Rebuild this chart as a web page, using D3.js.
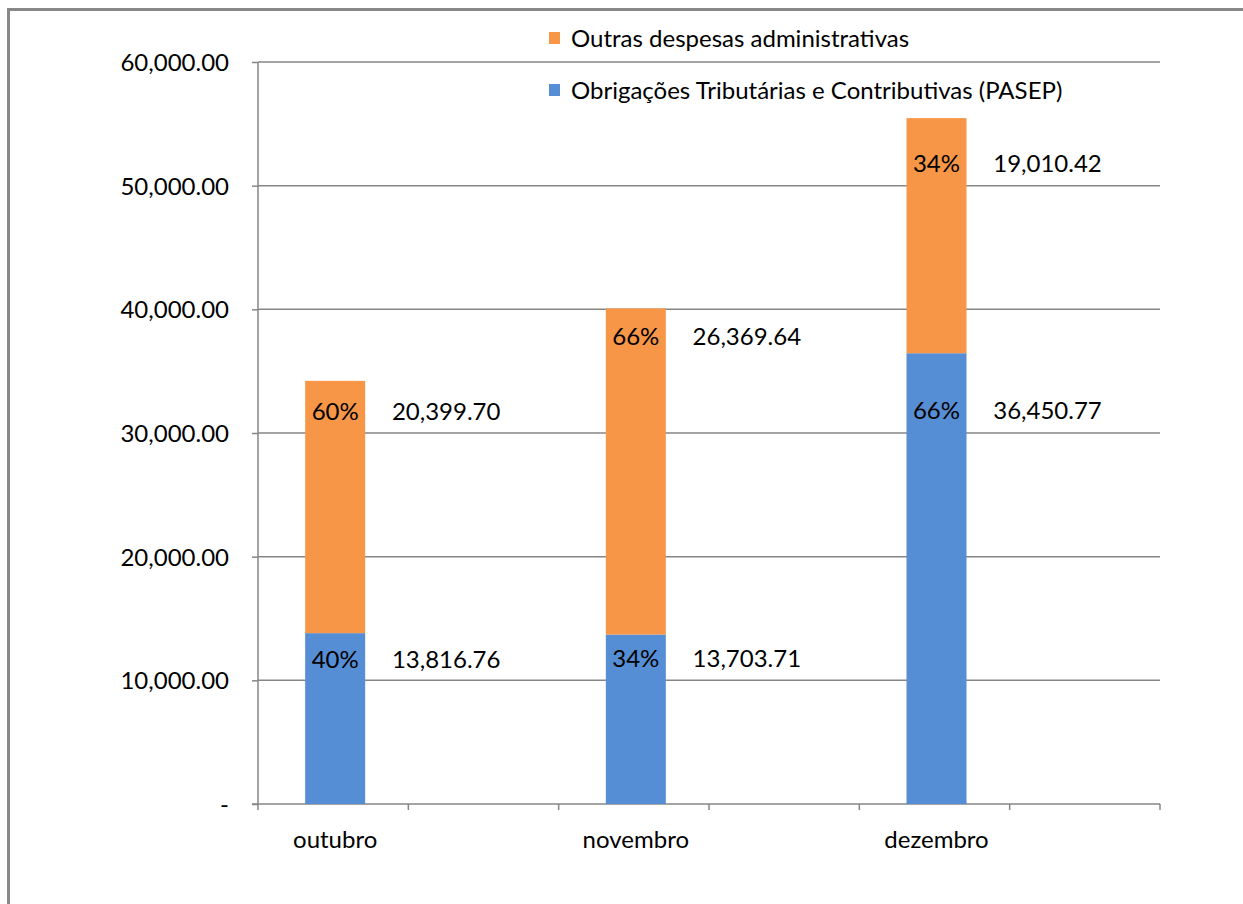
<!DOCTYPE html>
<html>
<head>
<meta charset="utf-8">
<script src="https://cdn.jsdelivr.net/npm/d3@7"></script>
<style>
body { margin: 0; background: #fff; }
text { font-family: Lato, "Open Sans", sans-serif; fill: #000; }
</style>
</head>
<body>
<div id="chart"></div>
<script>
// data
var months = ["outubro", "", "novembro", "", "dezembro", ""]
var pasep = [13816.76, null, 13703.71, null, 36450.77, null]
var outras = [20399.70, null, 26369.64, null, 19010.42, null]
var seriesNames = ["Outras despesas administrativas", "Obrigações Tributárias e Contributivas (PASEP)"]
var yTicks = [0, 10000, 20000, 30000, 40000, 50000, 60000]

// label nudges (px below segment top), hand placed in the original
var dyPasep = [26, 0, 24, 0, 57, 0]
var dyOutras = [31, 0, 28, 0, 45, 0]

var width = 1243, height = 904,
margin = {top: 62, bottom: 100, left: 258, right: 83},
blue = "#558ed5", orange = "#f79646", grey = "#868686",
fs = "24px"

var svg = d3.select("#chart")
	.append("svg")
	.attr("width", width)
	.attr("height", height)

// outer frame (only left and top are visible)
svg.append("path")
	.attr("d", "M8.5,904V9.5H1243")
	.attr("fill", "none")
	.attr("stroke", "#888")
	.attr("stroke-width", 3)

var x = d3.scaleBand()
	.domain(d3.range(months.length))
	.range([margin.left, width - margin.right])

var y = d3.scaleLinear()
	.domain([0, 60000])
	.range([height - margin.bottom, margin.top])

// gridlines
svg.append("g")
	.selectAll("line")
	.data(yTicks.slice(1))
	.enter().append("line")
	.attr("x1", margin.left)
	.attr("x2", width - margin.right)
	.attr("y1", function(d) { return y(d) })
	.attr("y2", function(d) { return y(d) })
	.attr("stroke", grey)
	.attr("stroke-width", 1.5)

var yAxis = svg.append("g")
	.attr("transform", "translate(" + margin.left + ",0)")
	.call(d3.axisLeft(y).tickValues(yTicks).tickSize(6).tickPadding(23)
		.tickFormat(function(d) { return d == 0 ? "-" : d3.format(",.2f")(d) }))
yAxis.select(".domain").attr("stroke", grey).attr("stroke-width", 1.5).attr("d", "M0," + y(60000) + "V" + y(0))
yAxis.selectAll(".tick line").attr("stroke", grey).attr("stroke-width", 1.5)
yAxis.selectAll("text").style("font-size", fs).attr("font-family", null).attr("dy", "0.36em")

// x axis: ticks at slot edges
var xAxis = svg.append("g")
	.attr("transform", "translate(0," + y(0) + ")")
xAxis.append("line")
	.attr("x1", margin.left - 6).attr("x2", width - margin.right)
	.attr("stroke", grey).attr("stroke-width", 1.5)
xAxis.selectAll(".edge")
	.data(d3.range(months.length + 1))
	.enter().append("line")
	.attr("class", "edge")
	.attr("x1", function(i) { return margin.left + i * x.step() })
	.attr("x2", function(i) { return margin.left + i * x.step() })
	.attr("y1", 0).attr("y2", 6)
	.attr("stroke", grey).attr("stroke-width", 1.5)
xAxis.selectAll(".lbl")
	.data(months)
	.enter().append("text")
	.attr("class", "lbl")
	.attr("x", function(d, i) { return x(i) + x.bandwidth() / 2 + 2 })
	.attr("y", 44)
	.attr("text-anchor", "middle")
	.style("font-size", fs)
	.text(function(d) { return d })

var barW = 60
var idx = d3.range(months.length).filter(function(i) { return pasep[i] != null })
function cx(i) { return x(i) + x.bandwidth() / 2 + 2 }

// blue bottom segment
svg.append("g").selectAll("rect")
	.data(idx)
	.enter().append("rect")
	.attr("x", function(i) { return cx(i) - barW / 2 })
	.attr("width", barW)
	.attr("y", function(i) { return y(pasep[i]) })
	.attr("height", function(i) { return y(0) - y(pasep[i]) })
	.attr("fill", blue)

// orange top segment
svg.append("g").selectAll("rect")
	.data(idx)
	.enter().append("rect")
	.attr("x", function(i) { return cx(i) - barW / 2 })
	.attr("width", barW)
	.attr("y", function(i) { return y(pasep[i] + outras[i]) })
	.attr("height", function(i) { return y(pasep[i]) - y(pasep[i] + outras[i]) })
	.attr("fill", orange)

var pct = d3.format(".0%"), num = d3.format(",.2f")
var labels = svg.append("g").style("font-size", fs)
idx.forEach(function(i) {
	var tot = pasep[i] + outras[i]
	var yB = y(pasep[i]) + dyPasep[i], yO = y(tot) + dyOutras[i]
	labels.append("text").attr("x", cx(i)).attr("y", yB).attr("dy", "0.36em")
		.attr("text-anchor", "middle").text(pct(pasep[i] / tot))
	labels.append("text").attr("x", cx(i) + 111).attr("y", yB).attr("dy", "0.36em")
		.attr("text-anchor", "middle").text(num(pasep[i]))
	labels.append("text").attr("x", cx(i)).attr("y", yO).attr("dy", "0.36em")
		.attr("text-anchor", "middle").text(pct(outras[i] / tot))
	labels.append("text").attr("x", cx(i) + 111).attr("y", yO).attr("dy", "0.36em")
		.attr("text-anchor", "middle").text(num(outras[i]))
})

// legend
var legend = svg.append("g")
	.selectAll("g")
	.data(seriesNames)
	.enter().append("g")
	.attr("transform", function(d, i) { return "translate(549," + (38 + i * 52) + ")" })
legend.append("rect")
	.attr("x", 0).attr("y", -6).attr("width", 11).attr("height", 12)
	.attr("fill", function(d, i) { return i == 0 ? orange : blue })
legend.append("text")
	.attr("x", 22).attr("dy", "0.36em")
	.style("font-size", fs)
	.text(function(d) { return d })
</script>
</body>
</html>
